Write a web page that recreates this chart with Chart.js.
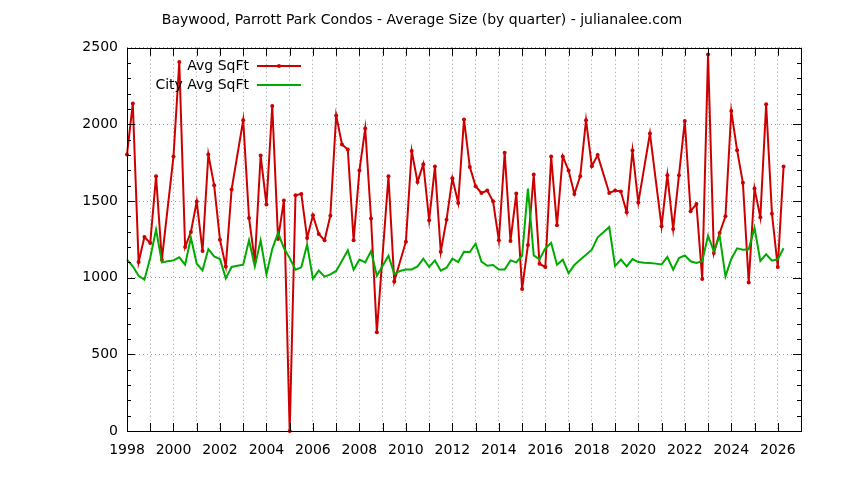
<!DOCTYPE html>
<html>
<head>
<meta charset="utf-8">
<script src="https://cdn.jsdelivr.net/npm/chart.js@4"></script>
<style>
  html, body { margin: 0; padding: 0; background: #fff; }
  #wrap { width: 844px; height: 480px; }
</style>
</head>
<body>
<div id="wrap"><canvas id="myChart" width="844" height="480"></canvas></div>
<script>
// first quarter of the series, one value per quarter after that
var firstYear = 1998;

// Avg SqFt (null = no sales that quarter)
var avgSqft = [
  1804, 2137, 1102, 1266,
  1227, 1662, 1118, null,
  1791, 2407, 1200, 1298,
  1497, 1174, 1804, 1603,
  1248, 1074, 1575, null,
  2028, 1390, 1107, 1797,
  1477, 2120, 1253, 1503,
  0, 1538, 1547, 1259,
  1407, 1285, 1244, 1405,
  2059, 1869, 1837, 1244,
  1699, 1974, 1386, 645,
  null, 1662, 976, null,
  1235, 1826, 1625, 1741,
  1375, 1725, 1170, 1379,
  1649, 1488, 2033, 1723,
  1597, 1553, 1569, 1499,
  1244, 1815, 1240, 1549,
  926, 1213, 1673, 1091,
  1070, 1791, 1342, 1791,
  1699, 1547, 1662, 2028,
  1728, 1800, null, 1553,
  1569, 1562, 1427, 1830,
  1490, null, 1941, null,
  1335, 1669, 1318, 1669,
  2022, 1434, 1481, 991,
  2457, 1161, 1292, 1401,
  2087, 1832, 1619, 969,
  1582, 1394, 2131, 1418,
  1070, 1725
];

// City Avg SqFt
var cityAvgSqft = [
  1118, 1075, 1013, 987,
  1130, 1314, 1100, 1107,
  1113, 1133, 1085, 1261,
  1091, 1048, 1187, 1139,
  1122, 996, 1070, 1078,
  1085, 1244, 1074, 1244,
  1022, 1187, 1292, 1194,
  1128, 1052, 1068, 1216,
  993, 1046, 1007, 1022,
  1044, 1111, 1179, 1052,
  1118, 1100, 1174, 1013,
  1078, 1144, 1024, 1044,
  1054, 1054, 1074, 1124,
  1070, 1113, 1046, 1065,
  1124, 1102, 1170, 1168,
  1222, 1105, 1078, 1083,
  1054, 1054, 1113, 1100,
  1144, 1582, 1146, 1120,
  1192, 1227, 1085, 1118,
  1030, 1083, 1118, 1150,
  1183, 1264, 1296, 1331,
  1076, 1118, 1074, 1122,
  1102, 1098, 1096, 1092,
  1087, 1135, 1052, 1128,
  1146, 1107, 1096, 1107,
  1274, 1172, 1274, 1009,
  1122, 1192, 1183, 1185,
  1325, 1109, 1153, 1111,
  1120, 1192
];

var xMin = 1998, xMax = 2027;
var yMin = 0, yMax = 2500;
var titleText = "Baywood, Parrott Park Condos - Average Size (by quarter) - julianalee.com";

var FONT = "'DejaVu Sans', sans-serif";
var RED = "#cc0000";
var GREEN = "#00aa00";

function toPoints(vals) {
  var pts = [];
  for (var i = 0; i < vals.length; i++) {
    pts.push({ x: firstYear + i / 4, y: vals[i] });
  }
  return pts;
}

// inward tick marks + frame, gnuplot style
var frameTicks = {
  id: "frameTicks",
  afterDatasetsDraw(chart) {
    var ctx = chart.ctx, a = chart.chartArea;
    var xs = chart.scales.x, ys = chart.scales.y;
    ctx.save();
    ctx.strokeStyle = "#000";
    ctx.lineWidth = 1;
    ctx.beginPath();
    for (var v = yMin; v <= yMax; v += 100) {
      var py = Math.round(ys.getPixelForValue(v)) + 0.5;
      var len = v % 500 === 0 ? 8 : 4;
      ctx.moveTo(a.left, py); ctx.lineTo(a.left + len, py);
      ctx.moveTo(a.right, py); ctx.lineTo(a.right - len, py);
    }
    for (var yr = xMin; yr <= xMax; yr++) {
      var px = Math.round(xs.getPixelForValue(yr)) + 0.5;
      ctx.moveTo(px, a.bottom); ctx.lineTo(px, a.bottom - 8);
      ctx.moveTo(px, a.top); ctx.lineTo(px, a.top + 8);
    }
    ctx.stroke();
    ctx.strokeRect(Math.round(a.left) + 0.5, Math.round(a.top) + 0.5,
      Math.round(a.right - a.left), Math.round(a.bottom - a.top));
    ctx.restore();
  }
};

// legend inside the plot: right-aligned text, sample line to the right
var keyBox = {
  id: "keyBox",
  afterDraw(chart) {
    var ctx = chart.ctx;
    var textRight = 249, lineL = 257, lineR = 301, rowY = 66, rowH = 19;
    ctx.save();
    ctx.font = "14px " + FONT;
    ctx.textAlign = "right";
    ctx.textBaseline = "middle";
    chart.data.datasets.forEach(function (ds, i) {
      var y = rowY + i * rowH;
      ctx.fillStyle = "#000";
      ctx.fillText(ds.label, textRight, y);
      ctx.strokeStyle = ds.borderColor;
      ctx.lineWidth = 2;
      ctx.beginPath();
      ctx.moveTo(lineL, y); ctx.lineTo(lineR, y);
      ctx.stroke();
      if (ds.pointRadius > 0) {
        ctx.fillStyle = ds.borderColor;
        ctx.beginPath();
        ctx.arc((lineL + lineR) / 2, y, ds.pointRadius, 0, Math.PI * 2);
        ctx.fill();
      }
    });
    ctx.restore();
  }
};

var ctx = document.getElementById("myChart");
var myChart = new Chart(ctx, {
  type: "line",
  data: {
    datasets: [
      {
        label: "Avg SqFt",
        data: toPoints(avgSqft),
        borderColor: RED,
        backgroundColor: RED,
        borderWidth: 2,
        pointRadius: 2,
        pointBorderWidth: 0,
        pointBackgroundColor: RED,
        spanGaps: true,
        tension: 0,
        clip: 5,
        order: 1
      },
      {
        label: "City Avg SqFt",
        data: toPoints(cityAvgSqft),
        borderColor: GREEN,
        backgroundColor: GREEN,
        borderWidth: 2,
        pointRadius: 0,
        spanGaps: true,
        tension: 0,
        clip: 5,
        order: 0
      }
    ]
  },
  options: {
    responsive: false,
    animation: false,
    events: [],
    layout: { padding: 0 },
    plugins: {
      legend: { display: false },
      tooltip: { enabled: false },
      title: {
        display: true,
        text: titleText,
        color: "#000",
        font: { family: FONT, size: 14, weight: "normal" },
        padding: { top: 12, bottom: 19 }
      }
    },
    scales: {
      x: {
        type: "linear",
        min: xMin,
        max: xMax,
        afterFit(scale) { scale.height = 49; },
        afterBuildTicks(scale) {
          var t = [];
          for (var yr = xMin; yr <= xMax; yr++) t.push({ value: yr });
          scale.ticks = t;
        },
        ticks: {
          autoSkip: false,
          maxRotation: 0,
          padding: 11,
          color: "#000",
          font: { family: FONT, size: 14 },
          callback: function (v) { return v % 2 === 0 && v < xMax ? String(v) : ""; }
        },
        grid: { color: "#a0a0a0", lineWidth: 1, drawTicks: false },
        border: { display: false, dash: [1, 3] }
      },
      y: {
        min: yMin,
        max: yMax,
        afterFit(scale) { scale.width = 127; },
        ticks: {
          stepSize: 500,
          padding: 9,
          color: "#000",
          font: { family: FONT, size: 14 },
          callback: function (v) { return String(v); }
        },
        grid: { color: "#a0a0a0", lineWidth: 1, drawTicks: false },
        border: { display: false, dash: [1, 3] }
      },
      // empty right-hand axis, only reserves the right margin
      yRight: {
        position: "right",
        min: yMin,
        max: yMax,
        afterFit(scale) { scale.width = 43; },
        ticks: { display: false },
        grid: { drawOnChartArea: false, drawTicks: false },
        border: { display: false }
      }
    }
  },
  plugins: [frameTicks, keyBox]
});
</script>
</body>
</html>
